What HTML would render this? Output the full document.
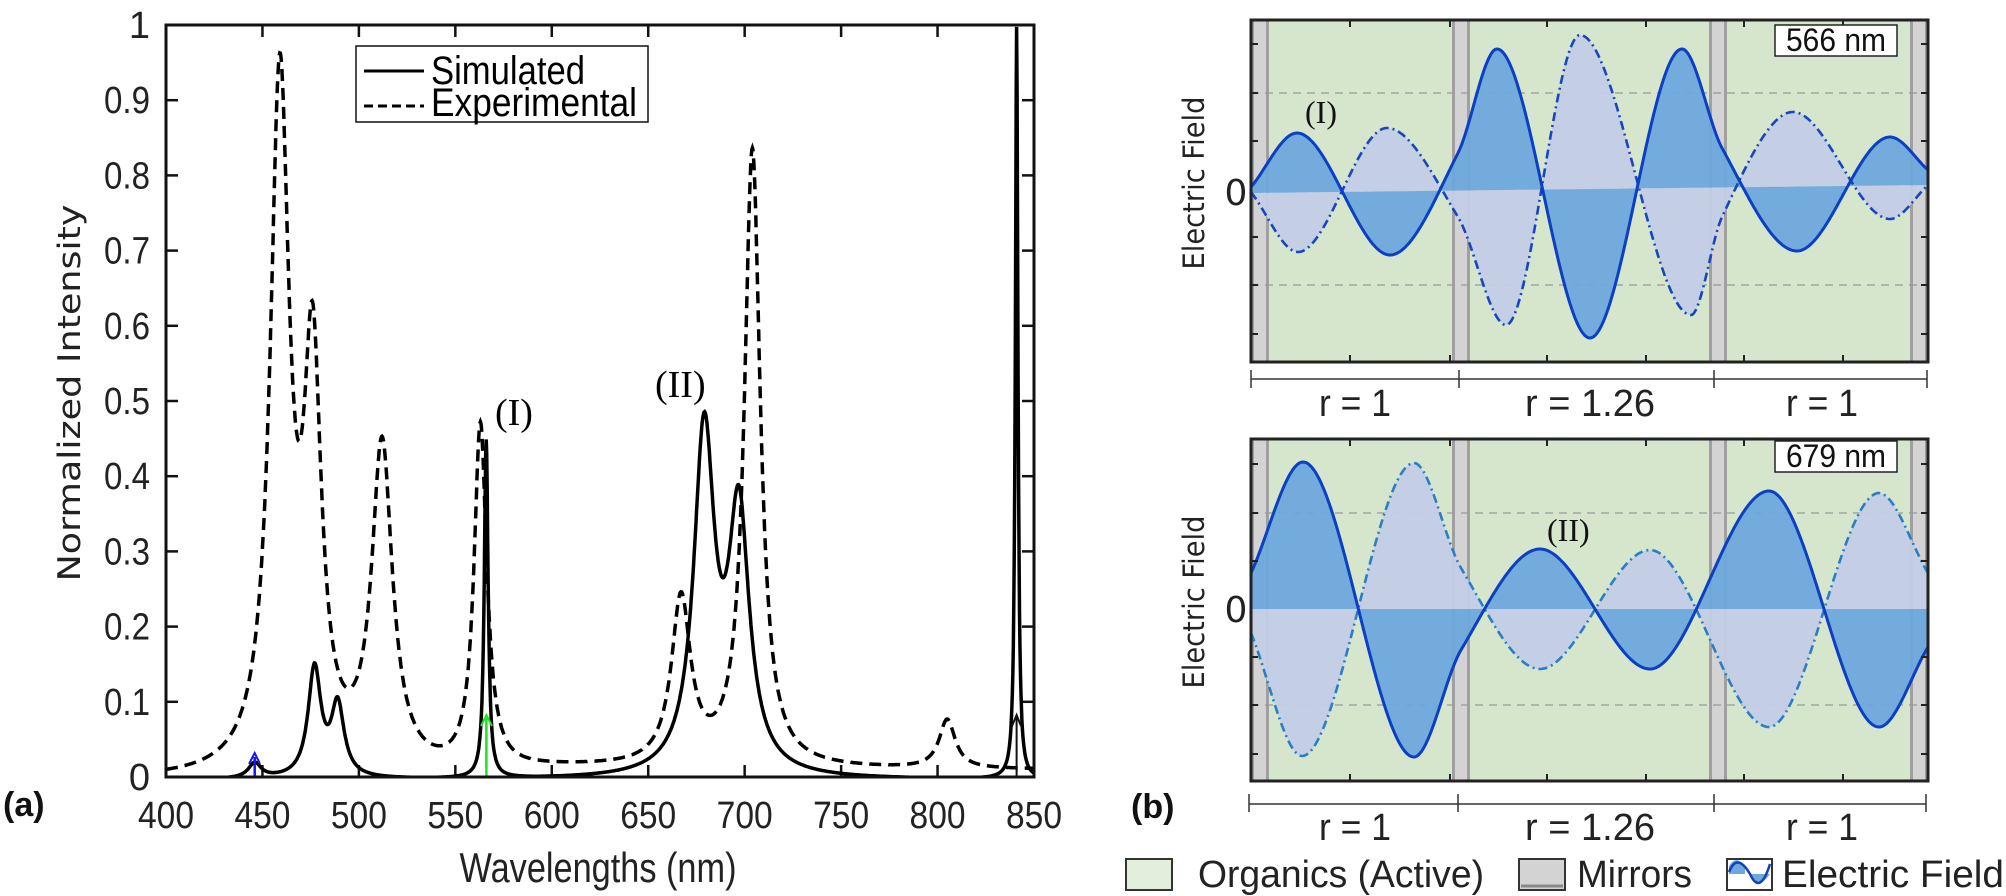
<!DOCTYPE html>
<html><head><meta charset="utf-8"><style>
html,body{margin:0;padding:0;background:#fff;}
svg{display:block;}
.n{font-family:"Liberation Sans Narrow","Liberation Sans",sans-serif;}
.d{font-family:"DejaVu Sans","Liberation Sans",sans-serif;}
.s{font-family:"Liberation Serif",serif;}
</style></head><body>
<svg id="sv" width="2006" height="896" viewBox="0 0 2006 896" xmlns="http://www.w3.org/2000/svg">
<defs>
<clipPath id="cl"><rect x="166" y="25" width="868" height="752"/></clipPath>
<clipPath id="cp1"><rect x="1251" y="20" width="677" height="342"/></clipPath>
<clipPath id="cp2"><rect x="1251" y="439" width="677" height="342"/></clipPath>
</defs>
<rect width="2006" height="896" fill="#fff"/>

<g id="leftticks" stroke="#111" stroke-width="2.5"></g>
<g clip-path="url(#cl)">
<path id="exp" fill="none" stroke="#000" stroke-width="3.5" stroke-dasharray="12,7"/>
<path id="sim" fill="none" stroke="#000" stroke-width="3.5"/>
</g>
<line x1="254.7" y1="777" x2="254.7" y2="757" stroke="#1515ff" stroke-width="2.5"/>
<path d="M249,764 L254.7,753 L260,764" fill="none" stroke="#1515ff" stroke-width="2"/>
<line x1="486.4" y1="777" x2="486.4" y2="718" stroke="#22e022" stroke-width="2.5"/>
<path d="M481,726 L486.4,715 L492,726" fill="none" stroke="#22e022" stroke-width="2"/>
<line x1="1016.6" y1="777" x2="1016.6" y2="718" stroke="#111" stroke-width="2"/>
<path d="M1012,726 L1016.6,715 L1021,726" fill="none" stroke="#111" stroke-width="2"/>
<rect x="166" y="25" width="868" height="752" fill="none" stroke="#111" stroke-width="3"/>
<rect x="356" y="46" width="292" height="76" fill="#fff" stroke="#111" stroke-width="1.5"/>
<line x1="364" y1="71" x2="424" y2="71" stroke="#000" stroke-width="3"/>
<line x1="364" y1="106" x2="424" y2="106" stroke="#000" stroke-width="3" stroke-dasharray="9,5"/>
<text class="n" x="431" y="84" font-size="40" textLength="154" lengthAdjust="spacingAndGlyphs">Simulated</text>
<text class="n" x="431" y="116" font-size="40" textLength="206" lengthAdjust="spacingAndGlyphs">Experimental</text>
<text class="s" x="495" y="425" font-size="38">(I)</text>
<text class="s" x="655" y="397" font-size="38">(II)</text>
<g id="lefttl" class="n" font-size="38" fill="#222"></g>
<text class="d" font-size="31" fill="#222" text-anchor="middle" transform="translate(80,393) rotate(-90)" textLength="377" lengthAdjust="spacingAndGlyphs">Normalized Intensity</text>
<text class="n" x="598" y="882" font-size="42" text-anchor="middle" fill="#222" textLength="277" lengthAdjust="spacingAndGlyphs">Wavelengths (nm)</text>
<text class="n" x="3" y="816" font-size="34" font-weight="bold" fill="#111">(a)</text>
<text class="n" x="1131" y="818" font-size="34" font-weight="bold" fill="#111">(b)</text>

<g id="p1"></g>
<g id="p2"></g>
<text class="d" font-size="29" fill="#222" text-anchor="middle" transform="translate(1204,183) rotate(-90)" textLength="173" lengthAdjust="spacingAndGlyphs">Electric Field</text>
<text class="d" font-size="29" fill="#222" text-anchor="middle" transform="translate(1204,602) rotate(-90)" textLength="173" lengthAdjust="spacingAndGlyphs">Electric Field</text>
<text class="d" x="1236" y="205" font-size="36" text-anchor="middle" fill="#222">0</text>
<text class="d" x="1236" y="622" font-size="36" text-anchor="middle" fill="#222">0</text>

<g stroke="#333" stroke-width="1.5">
<line x1="1251" y1="379" x2="1927" y2="379"/>
<line x1="1251" y1="370" x2="1251" y2="388"/><line x1="1459" y1="370" x2="1459" y2="388"/>
<line x1="1714" y1="370" x2="1714" y2="388"/><line x1="1927" y1="370" x2="1927" y2="388"/>
<line x1="1249" y1="804" x2="1926" y2="804"/>
<line x1="1249" y1="794" x2="1249" y2="812"/><line x1="1458" y1="794" x2="1458" y2="812"/>
<line x1="1714" y1="794" x2="1714" y2="812"/><line x1="1926" y1="794" x2="1926" y2="812"/>
</g>
<g class="n" font-size="38" fill="#222" text-anchor="middle">
<text x="1355" y="416" textLength="72" lengthAdjust="spacingAndGlyphs">r = 1</text><text x="1590" y="416" textLength="130" lengthAdjust="spacingAndGlyphs">r = 1.26</text><text x="1822" y="416" textLength="72" lengthAdjust="spacingAndGlyphs">r = 1</text>
<text x="1355" y="840" textLength="72" lengthAdjust="spacingAndGlyphs">r = 1</text><text x="1590" y="840" textLength="130" lengthAdjust="spacingAndGlyphs">r = 1.26</text><text x="1822" y="840" textLength="72" lengthAdjust="spacingAndGlyphs">r = 1</text>
</g>

<rect x="1126" y="859" width="46" height="31" fill="#e4eedd" stroke="#333" stroke-width="2"/>
<text class="n" x="1198" y="887" font-size="38" fill="#222" textLength="286" lengthAdjust="spacingAndGlyphs">Organics (Active)</text>
<rect x="1519" y="859" width="46" height="31" fill="#d3d3d3" stroke="#333" stroke-width="2"/>
<line x1="1521" y1="886" x2="1563" y2="886" stroke="#888" stroke-width="3"/>
<text class="n" x="1577" y="887" font-size="38" fill="#222" textLength="115" lengthAdjust="spacingAndGlyphs">Mirrors</text>
<rect x="1727" y="859" width="45" height="31" fill="#fff" stroke="#333" stroke-width="2"/>
<path d="M1729,866 Q1737,853 1745,869 L1745,874 L1729,874Z" fill="#6ea8dc"/>
<path d="M1750,874 L1770,874 Q1762,886 1754,880Z" fill="#6ea8dc"/>
<path d="M1729,872 Q1737,852 1750,874 Q1760,896 1770,864" fill="none" stroke="#1040c0" stroke-width="2.5"/>
<text class="n" x="1782" y="887" font-size="38" fill="#222" textLength="222" lengthAdjust="spacingAndGlyphs">Electric Field</text>
</svg>
<script>
(function(){
var NS="http://www.w3.org/2000/svg";
function el(tag,attrs,parent){var e=document.createElementNS(NS,tag);for(var k in attrs)e.setAttribute(k,attrs[k]);if(parent)parent.appendChild(e);return e;}
function X(w){return 166+(w-400)*868/450;}
function Y(v){return 777-752*v;}
function L(x,c,a,h){var d=(x-c)/h;return a/(1+d*d);}
var sims=[[446,0.02,4],[477,0.145,4],[489,0.095,4],[566,0.45,1.2],[679,0.45,6.5],[697,0.34,6.5],[841,1.0,0.8]];
var exps=[[459,0.91,6],[476,0.52,5.5],[512,0.43,6.5],[563,0.46,4],[667,0.22,6],[704,0.82,5],[805,0.065,5]];
function path(list,basef){var s="";for(var w=400;w<=850.001;w+=0.25){var v=basef(w);for(var i=0;i<list.length;i++)v+=L(w,list[i][0],list[i][1],list[i][2]);s+=(s?"L":"M")+X(w).toFixed(1)+","+Y(v).toFixed(1);}return s;}
document.getElementById("sim").setAttribute("d",path(sims,function(w){return -0.004;}));
document.getElementById("exp").setAttribute("d",path(exps,function(w){return -0.004+0.013/(1+Math.exp(-(w-580)/12));}));
var lt=document.getElementById("leftticks"), tl=document.getElementById("lefttl");
for(var w=450;w<850;w+=50){el("line",{x1:X(w),y1:777,x2:X(w),y2:765},lt);el("line",{x1:X(w),y1:25,x2:X(w),y2:37},lt);}
for(var w=400;w<=850;w+=50){var t=el("text",{x:X(w),y:828,"text-anchor":"middle",textLength:56,lengthAdjust:"spacingAndGlyphs"},tl);t.textContent=w;}
for(var i=0;i<=10;i++){var y=Y(i/10);el("line",{x1:166,y1:y,x2:178,y2:y},lt);el("line",{x1:1034,y1:y,x2:1022,y2:y},lt);
 var a={x:150,y:y+13,"text-anchor":"end"};if(i>0&&i<10){a.textLength=46;a.lengthAdjust="spacingAndGlyphs";}
 var t=el("text",a,tl);t.textContent=(i==0?"0":(i==10?"1":"0."+i));}
function pchip(P){var n=P.length,h=[],dl=[],m=[];for(var i=0;i<n-1;i++){h[i]=P[i+1][0]-P[i][0];dl[i]=(P[i+1][1]-P[i][1])/h[i];}
 m[0]=dl[0];m[n-1]=dl[n-2];for(var i=1;i<n-1;i++){if(dl[i-1]*dl[i]<=0)m[i]=0;else{var w1=2*h[i]+h[i-1],w2=h[i]+2*h[i-1];m[i]=(w1+w2)/(w1/dl[i-1]+w2/dl[i]);}}
 return function(x){var i=0;while(i<n-2&&x>P[i+1][0])i++;var t=(x-P[i][0])/h[i],t2=t*t,t3=t2*t;
 return (2*t3-3*t2+1)*P[i][1]+(t3-2*t2+t)*h[i]*m[i]+(-2*t3+3*t2)*P[i+1][1]+(t3-t2)*h[i]*m[i+1];};}
function panel(g,y0,y1,z0,z1,sol,das,dcol,lab,labx,laby,boxy,boxtxt,clip){
 var G=document.getElementById(g);
 el("rect",{x:1251,y:y0,width:677,height:y1-y0,fill:"#d6e6cd"},G);
 var mir=[[1251,1269],[1452,1470],[1709,1727],[1910,1928]];
 mir.forEach(function(m){el("rect",{x:m[0],y:y0,width:m[1]-m[0],height:y1-y0,fill:"#d3d3d3"},G);
  el("line",{x1:m[0]+1.5,y1:y0,x2:m[0]+1.5,y2:y1,stroke:"#a0a0a0","stroke-width":3},G);
  el("line",{x1:m[1]-1.5,y1:y0,x2:m[1]-1.5,y2:y1,stroke:"#a0a0a0","stroke-width":3},G);});
 var zc=(z0+z1)/2;
 [zc-96,zc+96].forEach(function(y){el("line",{x1:1251,y1:y,x2:1928,y2:y,stroke:"#999","stroke-width":1.3,"stroke-dasharray":"8,6"},G);});
 var C=el("g",{"clip-path":"url(#"+clip+")"},G);
 function zero(x){return z0+(z1-z0)*(x-1251)/677;}
 function build(P){var f=pchip(P),top="",pts=[];for(var x=1251;x<=1928;x+=1){var y=f(x);pts.push([x,y]);top+=(top?"L":"M")+x+","+y.toFixed(1);}
  var fill=top;for(var i=pts.length-1;i>=0;i--)fill+="L"+pts[i][0]+","+zero(pts[i][0]).toFixed(1);return [top,fill+"Z"];}
 var S=build(sol),D=build(das);
 el("path",{d:D[1],fill:"#c3cde6","fill-opacity":0.95},C);
 el("path",{d:S[1],fill:"#6ea8dc","fill-opacity":0.95},C);
 el("path",{d:D[0],fill:"none",stroke:dcol,"stroke-width":2.6,"stroke-dasharray":"9,4,2,4"},C);
 el("path",{d:S[0],fill:"none",stroke:"#0b3fc4","stroke-width":3},C);
 [1350,1450,1547,1646,1744,1843].forEach(function(x){el("line",{x1:x,y1:y0,x2:x,y2:y0+7,stroke:"#222","stroke-width":2},G);el("line",{x1:x,y1:y1,x2:x,y2:y1-7,stroke:"#222","stroke-width":2},G);});
 [-145,-96,-48,48,96,145].forEach(function(d){var y=zc+d;el("line",{x1:1251,y1:y,x2:1258,y2:y,stroke:"#222","stroke-width":2},G);el("line",{x1:1928,y1:y,x2:1921,y2:y,stroke:"#222","stroke-width":2},G);});
 el("rect",{x:1251,y:y0,width:677,height:y1-y0,fill:"none",stroke:"#222","stroke-width":3},G);
 el("rect",{x:1775,y:boxy,width:122,height:31,fill:"#fff",stroke:"#222","stroke-width":1.5},G);
 var t=el("text",{x:1836,y:boxy+26,"text-anchor":"middle","font-size":32,"class":"n",fill:"#111",textLength:100,lengthAdjust:"spacingAndGlyphs"},G);t.textContent=boxtxt;
 var t2=el("text",{x:labx,y:laby,"font-size":32,"class":"s",fill:"#111"},G);t2.textContent=lab;
}
panel("p1",20,362,193,185,
 [[1251,187],[1297,133],[1390,255],[1458,153],[1497,49],[1590,338],[1682,49],[1722,148],[1797,251],[1890,137],[1928,170]],
 [[1251,192],[1298,252],[1387,128],[1458,217],[1506,325],[1580,35],[1691,315],[1722,217],[1793,112],[1890,219],[1928,185]],
 "#1a45c0","(I)",1305,123,25,"566 nm","cp1");
panel("p2",439,781,609,609,
 [[1251,573],[1303,462],[1414,757],[1461,650],[1540,549],[1650,669],[1769,491],[1879,727],[1928,647]],
 [[1251,633],[1302,756],[1414,463],[1461,568],[1540,669],[1650,550],[1769,727],[1879,493],[1928,573]],
 "#2a7ec6","(II)",1547,541,441,"679 nm","cp2");
})();
</script>
</body></html>
